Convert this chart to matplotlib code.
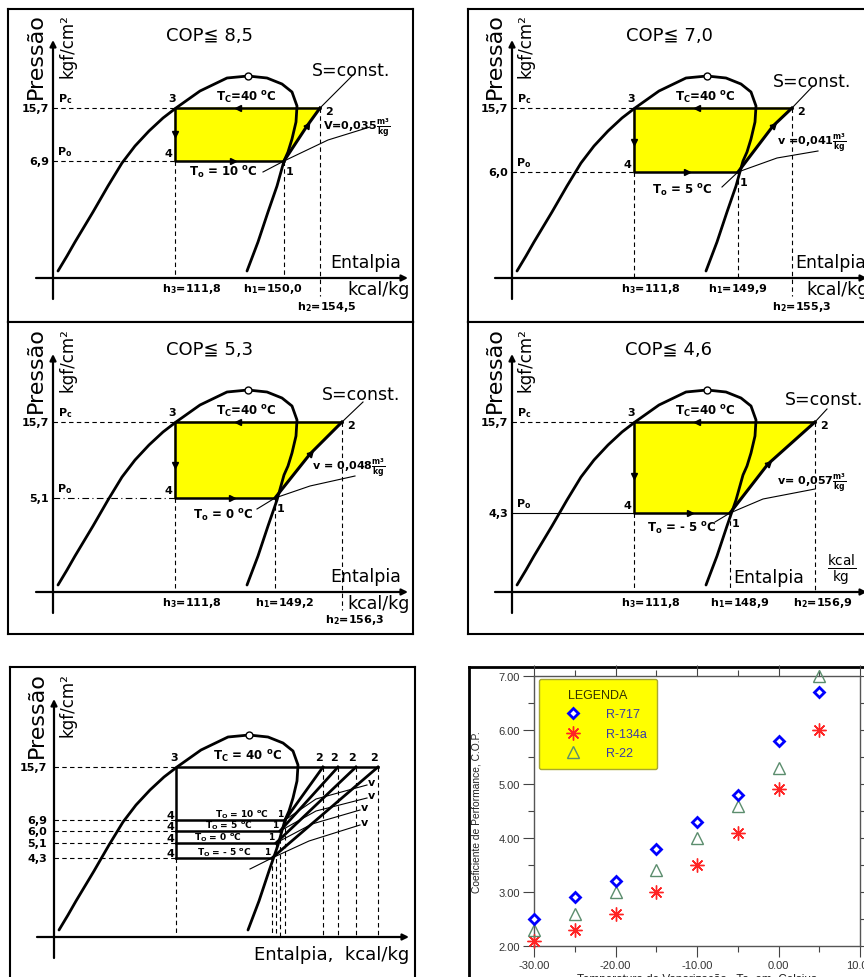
import matplotlib
matplotlib.use('Agg')
import numpy as np
import matplotlib.pyplot as plt

plt.rcParams['font.family'] = ['DejaVu Sans']
plt.rcParams['axes.unicode_minus'] = False
plt.rcParams['mathtext.fontset'] = 'dejavusans'

W, H = 864, 978

# ciclos de refrigeracao (4 diagramas p-h)
cop = ['8,5', '7,0', '5,3', '4,6']
t_evap = ['10', '5', '0', '- 5']
p_evap = ['6,9', '6,0', '5,1', '4,3']
h1 = ['150,0', '149,9', '149,2', '148,9']
h2 = ['154,5', '155,3', '156,3', '156,9']
v_esp = ['0,035', '0,041', '0,048', '0,057']
v_pref = ['V=', 'v =', 'v = ', 'v= ']
p_cond = '15,7'
h3 = '111,8'
t_cond = '40'

# coordenadas esquematicas (diagrama fora de escala)
y_cond = 170
y_evap = [117, 106, 94, 79]
x_3 = 122
x_1 = [231, 226, 222, 218]
x_2 = [267, 280, 289, 303]
x_2_resumo = [269, 284, 302, 324]

# curva de saturacao (liquido -> ponto critico -> vapor)
dome_x = [5, 14, 22, 40, 55, 69, 82, 96, 110, 123, 147, 174, 195,
          214, 229, 239, 244, 243, 239, 235, 231, 224, 215, 205, 194]
dome_y = [7, 22, 36, 66, 92, 115, 132, 147, 160, 170, 187, 200, 202,
          200, 194, 186, 172, 156, 139, 126, 117, 92, 66, 36, 7]
i_crit = 12

# COP x temperatura de vaporizacao
temp = [-30, -25, -20, -15, -10, -5, 0, 5]
cop_r717 = [2.5, 2.9, 3.2, 3.8, 4.3, 4.8, 5.8, 6.7]
cop_r134a = [2.1, 2.3, 2.6, 3.0, 3.5, 4.1, 4.9, 6.0]
cop_r22 = [2.3, 2.6, 3.0, 3.4, 4.0, 4.6, 5.3, 7.0]

fig = plt.figure(figsize=(W / 100, H / 100), dpi=100)


def box_axes(x0, y0, x1, y1):
    return fig.add_axes([x0 / W, 1 - y1 / H, (x1 - x0) / W, (y1 - y0) / H])


def lab(ax, x, y, s, size=8, **kw):
    kw.setdefault('ha', 'center')
    kw.setdefault('va', 'center')
    ax.text(x, y, s, fontsize=size, fontweight='bold', **kw)


def dashed(ax, xs, ys):
    ax.plot(xs, ys, color='k', lw=0.8, ls=(0, (4, 3)))


def diagram(box, origin):
    x0, y0, x1, y1 = box
    ox, oy = origin
    ax = box_axes(x0, y0, x1, y1)
    ax.set_xlim(x0 - ox, x1 - ox)
    ax.set_ylim(oy - y1, oy - y0)
    ax.set_xticks([])
    ax.set_yticks([])
    for s in ax.spines.values():
        s.set_linewidth(1.5)
    arr = dict(arrowstyle='-|>', lw=1.6, color='k', mutation_scale=9, shrinkA=0, shrinkB=0)
    ax.annotate('', xy=(0, 238), xytext=(0, -21), arrowprops=arr)
    ax.annotate('', xy=(355, 0), xytext=(-17, 0), arrowprops=arr)
    ax.text(-17, 223, 'Pressão', rotation=90, ha='center', va='center', fontsize=16)
    ax.text(14, 233, 'kgf/cm²', rotation=90, ha='center', va='center', fontsize=12)
    ax.plot(dome_x, dome_y, color='k', lw=2, zorder=4,
            solid_capstyle='round', solid_joinstyle='round')
    ax.plot(dome_x[i_crit], dome_y[i_crit], 'o', mfc='white', mec='k', ms=5, mew=1, zorder=5)
    return ax


boxes = [(8, 10, 413, 323), (468, 10, 873, 323), (8, 323, 413, 635), (468, 323, 873, 635)]
origins = [(53, 279), (512, 279), (53, 593), (512, 593)]
comp_mid = [(254, 152), (261, 152), (257, 138), (256, 128)]
s_end = [(300, 203), (301, 192), (310, 190), (315, 183)]
v_line = [[(210, 106), (231, 117), (275, 138), (317, 151)],
          [(210, 91), (226, 106), (265, 120), (306, 127)],
          [(204, 83), (222, 94), (257, 106), (302, 116)],
          [(203, 70), (218, 79), (251, 93), (303, 103)]]
arrow_down = [144, 136, 127, 116]
arrow_right = [180, 175, 179, 178]
v_lab = [(270, 151), (265, 136), (259, 125), (265, 110)]
h1_x = [220, 226, 232, 228]
h2_pos = [(274, -28), (290, -28), (302, -27), (311, -10)]
s_pos = [(298, 208), (300, 197), (308, 198), (312, 193)]
ent_x = [277, 283, 277, 221]
to_y = [106, 88, 77, 64]
evap_ls = [(0, (4, 3)), (0, (4, 3)), (0, (6, 3, 1, 3)), '-']

for i in range(4):
    ax = diagram(boxes[i], origins[i])
    ye, xa, xb = y_evap[i], x_1[i], x_2[i]
    xm, ym = comp_mid[i]
    ax.fill([x_3, xb, xm, xa, x_3], [y_cond, y_cond, ym, ye, ye], color='#ffff00', zorder=1)
    ax.plot([xa, x_3, x_3, xb], [ye, ye, y_cond, y_cond], color='k', lw=1.8, zorder=3)
    ax.plot([xa, xm, xb], [ye, ym, y_cond], color='k', lw=2.2, zorder=3)
    ax.plot([xb, s_end[i][0]], [y_cond, s_end[i][1]], color='k', lw=0.8)
    vx, vy = zip(*v_line[i])
    ax.plot(vx, vy, color='k', lw=0.8)
    dashed(ax, [0, x_3], [y_cond, y_cond])
    ax.plot([0, x_3], [ye, ye], color='k', lw=0.8, ls=evap_ls[i])
    dashed(ax, [x_3, x_3], [ye, 0])
    dashed(ax, [xa, xa], [ye, 0])
    dashed(ax, [xb, xb], [y_cond, -18 if i < 3 else 0])
    # setas do ciclo
    ax.plot(185, y_cond, marker='<', color='k', ms=5, zorder=5)
    ax.plot(x_3, arrow_down[i], marker='v', color='k', ms=5, zorder=5)
    ax.plot(arrow_right[i], ye, marker='>', color='k', ms=5, zorder=5)
    ang = np.degrees(np.arctan2(y_cond - ym, xb - xm))
    ax.plot(xm, ym, marker=(3, 0, ang - 90), color='k', ms=5, zorder=5)
    # textos
    ax.text(157, 243, 'COP≦ ' + cop[i], fontsize=13, ha='center', va='center')
    ax.text(s_pos[i][0], s_pos[i][1], 'S=const.', fontsize=12.5, ha='center', va='center')
    lab(ax, 12, y_cond + 10, 'P$_\\mathbf{c}$')
    lab(ax, 12, ye + 10, 'P$_\\mathbf{o}$')
    lab(ax, -4, y_cond, p_cond, ha='right')
    lab(ax, -4, ye, p_evap[i], ha='right')
    lab(ax, x_3 - 3, y_cond + 10, '3')
    lab(ax, x_3 - 7, ye + 8, '4')
    lab(ax, xb + 9, y_cond - 3, '2')
    lab(ax, xa + 6, ye - 10, '1')
    lab(ax, 193, y_cond + 11, 'T$_\\mathbf{C}$=' + t_cond + ' $^\\mathbf{o}$C', size=8.5)
    lab(ax, 170, to_y[i], 'T$_\\mathbf{o}$ = ' + t_evap[i] + ' $^\\mathbf{o}$C', size=8.5)
    lab(ax, v_lab[i][0], v_lab[i][1],
        v_pref[i] + v_esp[i] + r'$\frac{\mathbf{m^3}}{\mathbf{kg}}$', ha='left')
    lab(ax, x_3 + 17, -10, 'h$_\\mathbf{3}$=' + h3)
    lab(ax, h1_x[i], -10, 'h$_\\mathbf{1}$=' + h1[i])
    lab(ax, h2_pos[i][0], h2_pos[i][1], 'h$_\\mathbf{2}$=' + h2[i])
    if i < 3:
        ax.text(ent_x[i], 16, 'Entalpia', fontsize=12.5, ha='left', va='center')
        ax.text(294, -11, 'kcal/kg', fontsize=12.5, ha='left', va='center')
    else:
        ax.text(ent_x[i], 15, 'Entalpia', fontsize=12.5, ha='left', va='center')
        ax.text(330, 23, r'$\frac{\mathsf{kcal}}{\mathsf{kg}}$', fontsize=14, ha='center', va='center')

# diagrama resumo com as 4 temperaturas de vaporizacao
ax = diagram((10, 668, 415, 995), (54, 938))
v_res = [[(231, 117), (262, 138), (313, 152)],
         [(226, 106), (262, 126), (313, 139)],
         [(222, 94), (258, 113), (306, 127)],
         [(196, 68), (218, 79), (255, 96), (306, 112)]]
to_x = [188, 175, 164, 170]
ax.plot([x_3, x_3, x_2_resumo[-1]], [y_evap[-1], y_cond, y_cond], color='k', lw=1.8, zorder=3)
dashed(ax, [0, x_3], [y_cond, y_cond])
dashed(ax, [x_3, x_3], [y_evap[-1], 0])
lab(ax, x_3 - 2, y_cond + 10, '3')
lab(ax, 194, y_cond + 11, 'T$_\\mathbf{C}$ = ' + t_cond + ' $^\\mathbf{o}$C', size=8.5)
lab(ax, -7, y_cond, p_cond, ha='right')
for i in range(4):
    ye, xa, xb = y_evap[i], x_1[i], x_2_resumo[i]
    ax.plot([x_3, xa], [ye, ye], color='k', lw=1.8, zorder=3)
    ax.plot([xa, xb], [ye, y_cond], color='k', lw=2.0, zorder=3)
    vx, vy = zip(*v_res[i])
    ax.plot(vx, vy, color='k', lw=0.8)
    dashed(ax, [0, x_3], [ye, ye])
    dashed(ax, [xa, xa], [ye, 0])
    dashed(ax, [xb, xb], [y_cond, 0])
    lab(ax, -7, ye, p_evap[i], ha='right')
    lab(ax, x_3 - 6, ye + 5, '4')
    lab(ax, xb - 4, y_cond + 10, '2')
    lab(ax, xa - 5, ye + 6, '1', size=6.5, zorder=6)
    lab(ax, to_x[i], ye + 6, 'T$_\\mathbf{O}$ = ' + t_evap[i] + ' $^\\mathbf{o}$C', size=6.5)
    lab(ax, v_res[i][-1][0] + 4, v_res[i][-1][1] + 3, 'v')
ax.text(278, -17, 'Entalpia,  kcal/kg', fontsize=13, ha='center', va='center')

# grafico COP x temperatura
frame = box_axes(469, 668, 890, 1000)
frame.set_xticks([])
frame.set_yticks([])
for s in frame.spines.values():
    s.set_linewidth(2)

ax6 = box_axes(534, 677, 860, 947)
ax6.plot(temp, cop_r717, ls='none', marker='D', ms=5.5, mfc='white', mec='#0000ff', mew=2,
         label='R-717', clip_on=False, zorder=4)
ax6.plot(temp, cop_r134a, ls='none', marker=(8, 2, 0), ms=10, mec='#ff2424', mew=1,
         label='R-134a', clip_on=False, zorder=3)
ax6.plot(temp, cop_r22, ls='none', marker='^', ms=8, mfc='none', mec='#5b8d6d', mew=1,
         label='R-22', clip_on=False, zorder=3)
ax6.set_xlim(-30, 10)
ax6.set_ylim(2, 7)
ax6.set_xticks([-30, -20, -10, 0, 10])
ax6.set_xticks([-25, -15, -5, 5], minor=True)
ax6.set_yticks([2, 3, 4, 5, 6, 7])
ax6.set_yticks([2.5, 3.5, 4.5, 5.5, 6.5], minor=True)
ax6.xaxis.set_major_formatter('{x:.2f}')
ax6.yaxis.set_major_formatter('{x:.2f}')
ax6.tick_params(which='both', direction='out', top=True, right=True, width=0.8,
                color='#444444', labelsize=8, labelcolor='#333333',
                labelfontfamily='Liberation Sans')
ax6.tick_params(which='major', length=8, pad=2)
ax6.tick_params(which='minor', length=4.5)
for s in ax6.spines.values():
    s.set_linewidth(1)
    s.set_color('#555555')
ax6.set_ylabel('Coeficiente de Performance, C.O.P.', fontsize=7.4,
               family='Liberation Sans', color='#222222')
ax6.yaxis.set_label_coords(-0.16, 0.5)
ax6.set_xlabel('Temperatura de Vaporização   To  em  Celsius', fontsize=8.5,
               family='Liberation Sans', color='#222222')
ax6.xaxis.set_label_coords(0.5, -0.1)
leg = ax6.legend(title='LEGENDA', loc='upper left', bbox_to_anchor=(0.015, 0.989),
                 borderaxespad=0, borderpad=0.8, handlelength=3.8, handletextpad=0.8,
                 labelspacing=0.6, fancybox=True, framealpha=1,
                 facecolor='#ffff00', edgecolor='#a8a830',
                 prop={'family': 'Liberation Sans', 'size': 9},
                 title_fontproperties={'family': 'Liberation Sans', 'size': 9})
for t in leg.get_texts():
    t.set_color('#3a3aa8')
leg.get_title().set_color('#333300')

fig.savefig('out.png', dpi=100)
